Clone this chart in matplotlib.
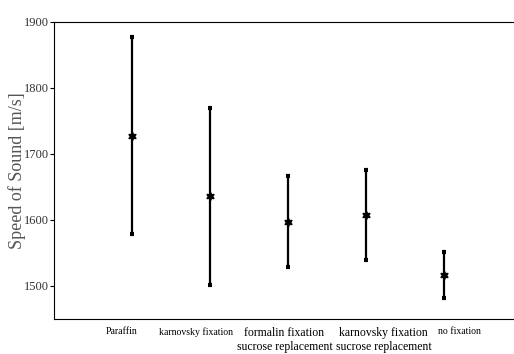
import numpy as np
import matplotlib.pyplot as plt

### DATA ###
groups = ['Paraffin', 'karnovsky fixation', 'formalin fixation\nsucrose replacement',
          'karnovsky fixation\nsucrose replacement', 'no fixation']
speed_mean = [1727, 1636, 1597, 1608, 1517]  # m/s
speed_low = [1578, 1502, 1528, 1539, 1481]
speed_high = [1876, 1769, 1666, 1676, 1552]

### LAYOUT ###
label_pos = [0.865, 1.82, 2.95, 4.22, 5.20]  # labels sit off-centre in the original
label_size = [7, 7, 8.5, 8.5, 7]

plt.rcParams['font.family'] = ['Liberation Serif', 'DejaVu Serif']


def main():
    fig = plt.figure(figsize=(5.14, 3.54), dpi=100)
    ax = fig.add_axes([0.106, 0.099, 0.91, 0.84])

    x = np.arange(1, len(groups) + 1)
    mean = np.array(speed_mean)
    yerr = [mean - np.array(speed_low), np.array(speed_high) - mean]
    ax.errorbar(x, mean, yerr=yerr, fmt='none', ecolor='black',
                elinewidth=1.6, capsize=1.4, capthick=3)
    ax.plot(x, mean, linestyle='none', marker=(6, 1, 0), markersize=6,
            color='black')

    ax.set_xlim(0, 6)
    ax.set_ylim(1450, 1900)
    ax.set_yticks([1500, 1600, 1700, 1800, 1900])
    ax.tick_params(axis='y', direction='out', length=3, labelsize=9,
                   labelcolor='#333333', pad=1)
    ax.set_xticks(label_pos)
    ax.set_xticklabels(groups)
    ax.tick_params(axis='x', length=0, pad=6)
    for lbl, s in zip(ax.get_xticklabels(), label_size):
        lbl.set_fontsize(s)
        lbl.set_verticalalignment('top')
    ax.set_ylabel('Speed of Sound [m/s]', fontsize=13, color='#555555')
    ax.yaxis.set_label_coords(-0.061, 0.5)
    ax.spines['right'].set_visible(False)

    fig.savefig('out.png', dpi=100)


if __name__ == "__main__":
    main()
